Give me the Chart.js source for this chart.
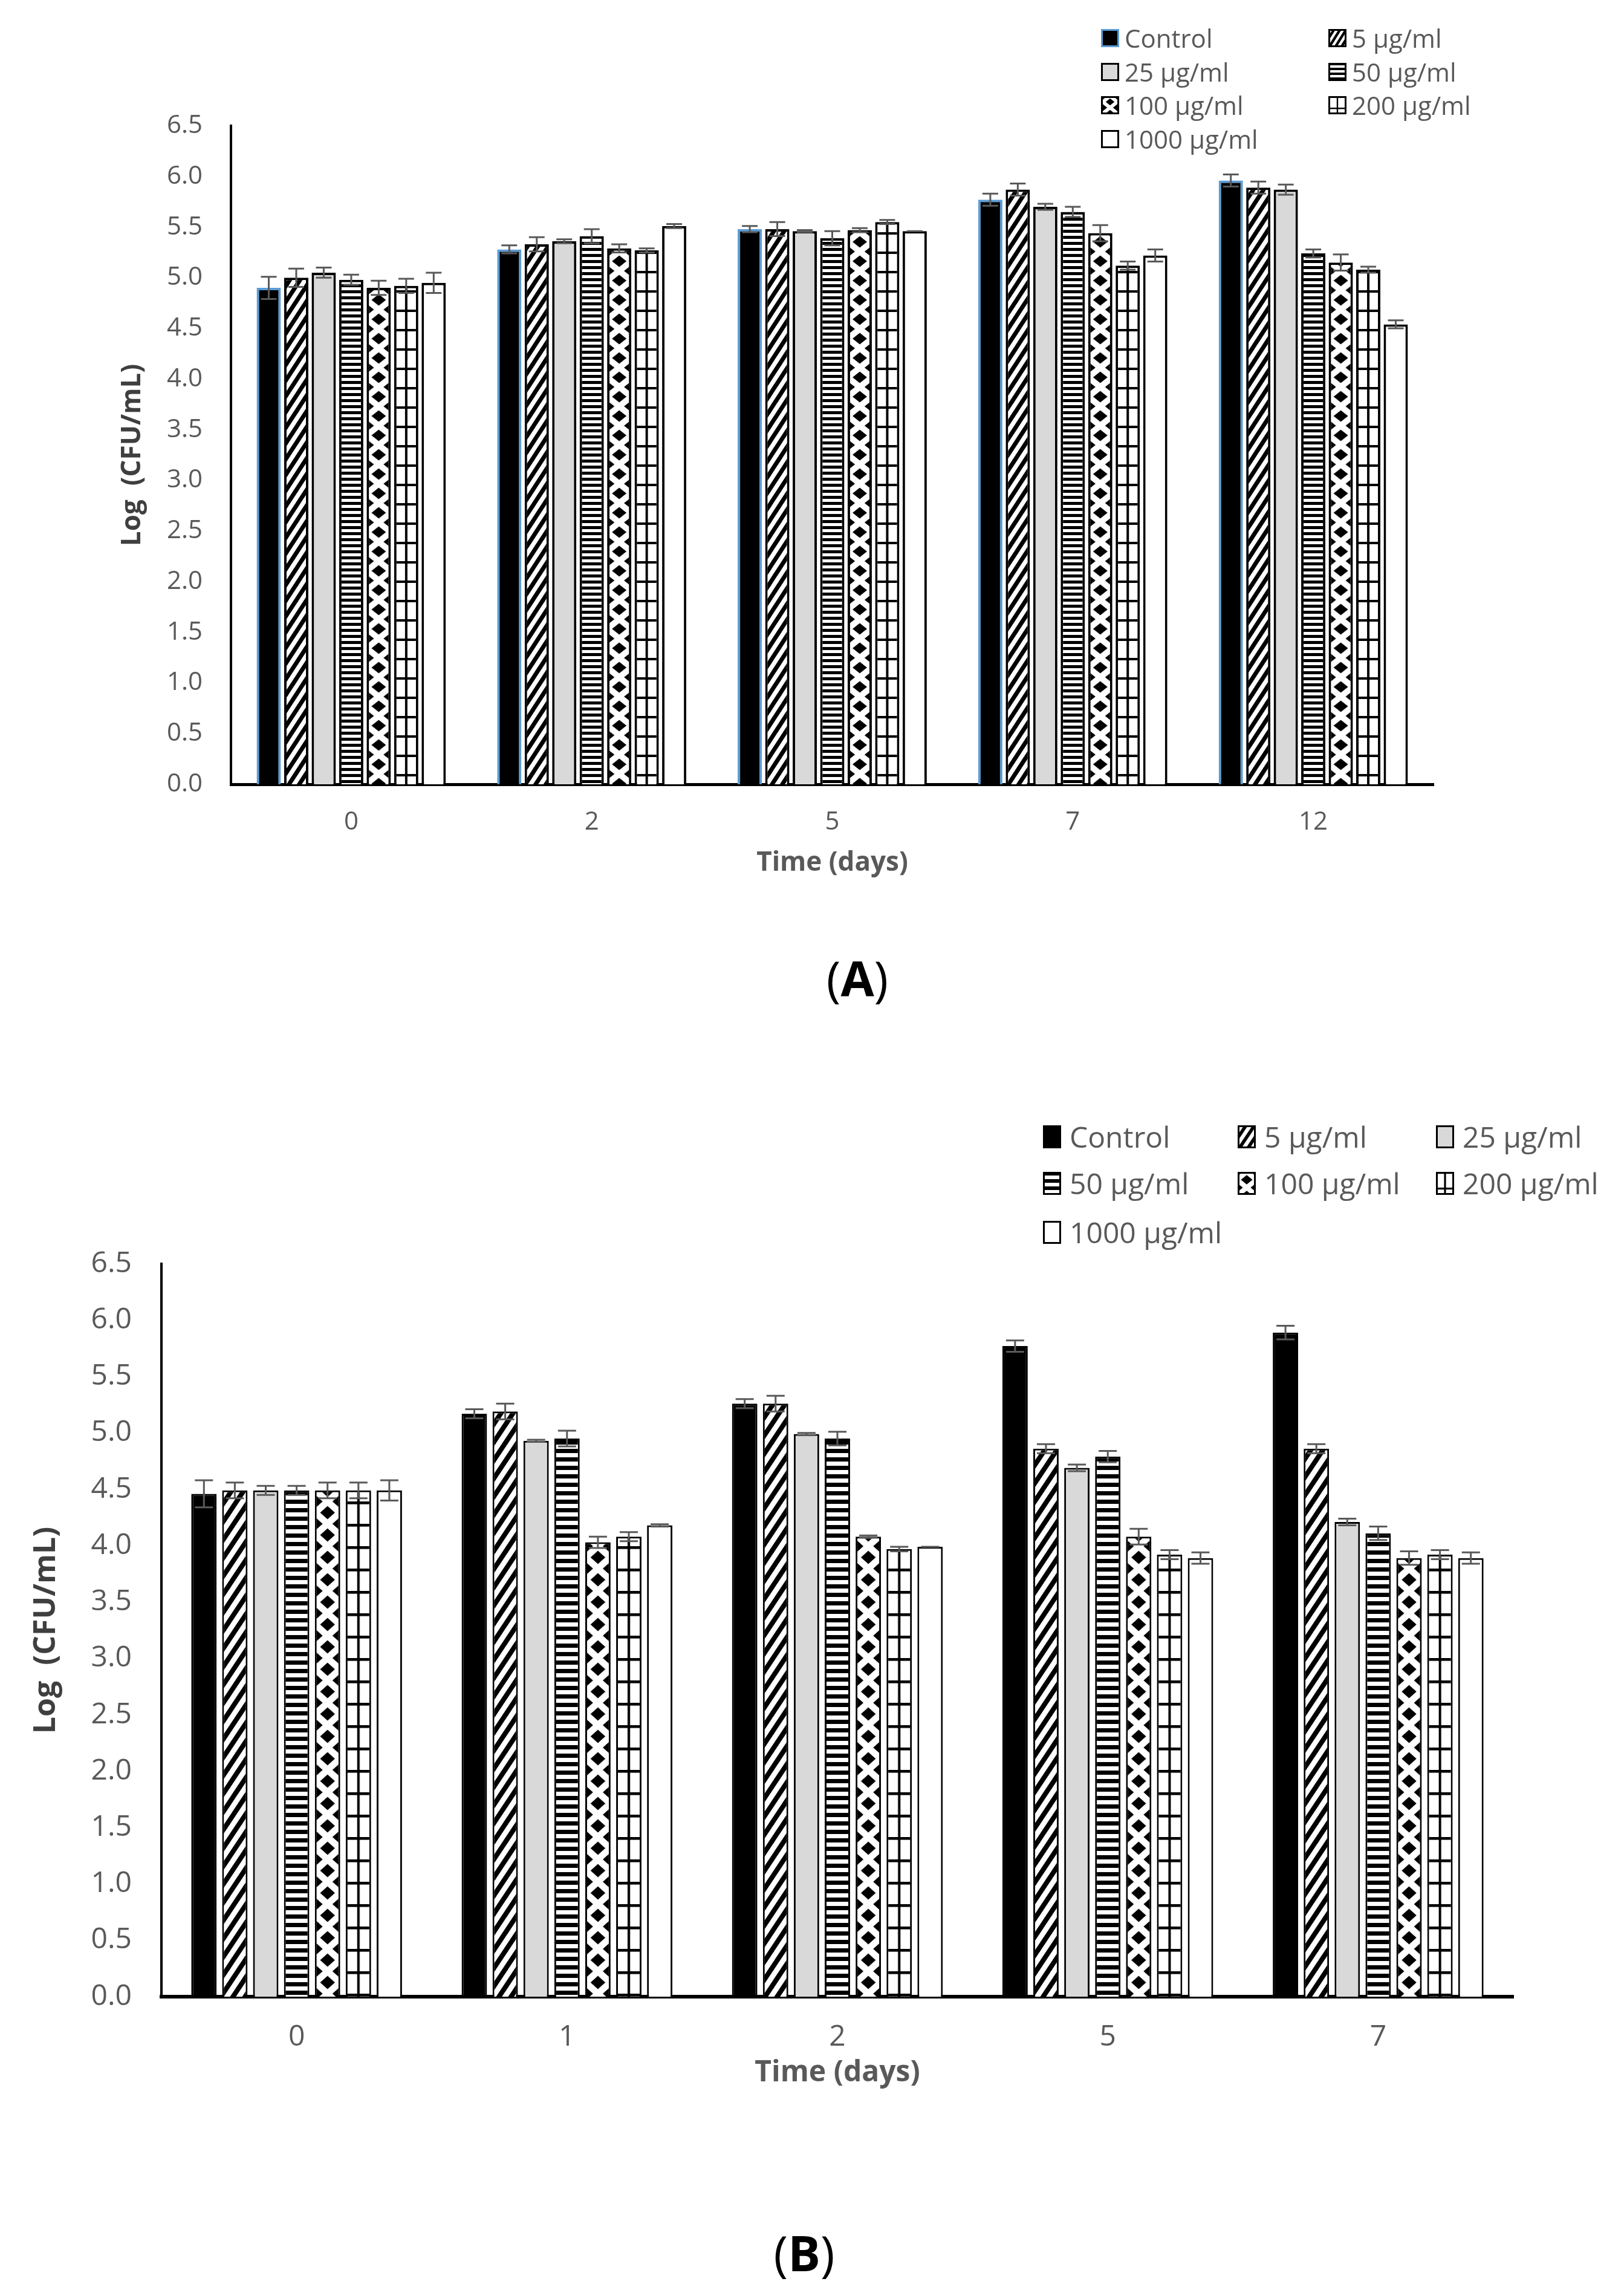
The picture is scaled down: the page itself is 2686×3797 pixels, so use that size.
<!DOCTYPE html>
<html>
<head>
<meta charset="utf-8">
<script src="https://cdn.jsdelivr.net/npm/chart.js@4.4.1/dist/chart.umd.min.js"></script>
<style>
  body { margin: 0; background: #fff; }
  #page { position: relative; width: 2686px; height: 3797px; background: #fff; font-family: 'Open Sans', sans-serif; overflow: hidden; }
  .panel { position: absolute; left: 0; }
  .legend-item { position: absolute; display: flex; align-items: center; color: #595959; white-space: nowrap; transform: translateY(-50%); line-height: 1; }
  .caption { position: absolute; font-size: 80px; color: #000; transform: translate(-50%, -50%); white-space: nowrap; }
  .caption b { font-weight: 700; }
</style>
</head>
<body>
<div id="page">
  <div class="panel" style="top:0;"><canvas id="chartA" width="2686" height="1500"></canvas></div>
  <div class="panel" style="top:1780px;"><canvas id="chartB" width="2686" height="1800"></canvas></div>
  <div class="caption" style="left:1418px; top:1616px;">(<b>A</b>)</div>
  <div class="caption" style="left:1330px; top:3724px;">(<b>B</b>)</div>
</div>
<script>
const FONT = "'Open Sans', sans-serif";

// series shared by both panels
const seriesLabels = ['Control', '5 µg/ml', '25 µg/ml', '50 µg/ml', '100 µg/ml', '200 µg/ml', '1000 µg/ml'];
const fills = ['black', 'diag', 'grey', 'hstripe', 'diamond', 'grid', 'white'];

// panel A
const daysA = ['0', '2', '5', '7', '12'];
const meansA = [
  [4.90, 5.28, 5.48, 5.77, 5.96],  // Control
  [5.00, 5.33, 5.48, 5.87, 5.89],  // 5
  [5.05, 5.36, 5.46, 5.70, 5.87],  // 25
  [4.98, 5.41, 5.39, 5.65, 5.24],  // 50
  [4.90, 5.29, 5.47, 5.44, 5.15],  // 100
  [4.92, 5.27, 5.55, 5.12, 5.08],  // 200
  [4.95, 5.51, 5.46, 5.22, 4.54]   // 1000
];
const errA = [
  [0.11, 0.04, 0.03, 0.06, 0.06],
  [0.09, 0.07, 0.07, 0.06, 0.06],
  [0.05, 0.02, 0.01, 0.03, 0.05],
  [0.05, 0.07, 0.07, 0.05, 0.04],
  [0.07, 0.04, 0.02, 0.08, 0.08],
  [0.07, 0.02, 0.02, 0.04, 0.03],
  [0.10, 0.02, 0.00, 0.06, 0.04]
];

// panel B
const daysB = ['0', '1', '2', '5', '7'];
const meansB = [
  [4.46, 5.17, 5.26, 5.77, 5.89],  // Control
  [4.49, 5.19, 5.26, 4.86, 4.86],  // 5
  [4.49, 4.93, 4.99, 4.69, 4.21],  // 25
  [4.49, 4.95, 4.95, 4.79, 4.11],  // 50
  [4.49, 4.03, 4.08, 4.08, 3.89],  // 100
  [4.49, 4.08, 3.97, 3.92, 3.92],  // 200
  [4.49, 4.18, 3.99, 3.89, 3.89]   // 1000
];
const errB = [
  [0.12, 0.04, 0.04, 0.05, 0.06],
  [0.07, 0.07, 0.07, 0.04, 0.04],
  [0.04, 0.01, 0.01, 0.03, 0.03],
  [0.04, 0.07, 0.06, 0.05, 0.06],
  [0.07, 0.05, 0.01, 0.07, 0.06],
  [0.07, 0.04, 0.02, 0.04, 0.04],
  [0.09, 0.01, 0.00, 0.05, 0.05]
];

const yMax = 6.5;
const yStep = 0.5;


// hatch fills, roughly like the Excel pattern fills
function makeFill(kind, s, stripe){
    if (kind === 'black') return '#000';
    if (kind === 'grey') return '#d9d9d9';
    if (kind === 'white') return '#fff';
    const t = document.createElement('canvas');
    const g = t.getContext('2d');
    let w, h;
    if (kind === 'diag') { w = 17 * s; h = 26 * s; }
    else if (kind === 'hstripe') { w = 8; h = stripe; }
    else { w = 40 * s; h = 32 * s; }
    t.width = Math.max(2, Math.round(w));
    t.height = Math.max(2, Math.round(h));
    w = t.width; h = t.height;
    g.fillStyle = '#fff';
    g.fillRect(0, 0, w, h);
    g.fillStyle = '#000';
    g.strokeStyle = '#000';
    if (kind === 'diag') {
        g.lineWidth = 7 * s;
        for (let k = -1; k <= 1; k++) {
            g.beginPath();
            g.moveTo(-w, 2 * h + k * h);
            g.lineTo(2 * w, -h + k * h);
            g.stroke();
        }
    } else if (kind === 'hstripe') {
        g.fillRect(0, 0, w, h / 2);
    } else if (kind === 'diamond') {
        const dx = w * 0.3, dy = h * 0.3;
        [[w / 2, h / 2], [0, 0], [w, 0], [0, h], [w, h]].forEach(([cx, cy]) => {
            g.beginPath();
            g.moveTo(cx - dx, cy);
            g.lineTo(cx, cy - dy);
            g.lineTo(cx + dx, cy);
            g.lineTo(cx, cy + dy);
            g.closePath();
            g.fill();
        });
    } else {
        const lw = Math.max(2, 4 * s);
        g.fillRect(0, 0, w, lw);
        g.fillRect(w / 2 - lw / 2, 0, lw, h);
    }
    const pat = g.createPattern(t, 'repeat');
    if (kind === 'diamond' || kind === 'grid') pat.tileW = w;
    return pat;
}

// keep diamond / grid fills centred on every bar
const alignPatterns = {
    id: 'alignPatterns',
    beforeDatasetsDraw(chart) {
        const xs = chart.scales.x;
        const cw = xs.getPixelForValue(1) - xs.getPixelForValue(0);
        chart.data.datasets.forEach((ds, i) => {
            const p = ds.backgroundColor;
            if (!p || !p.tileW) return;
            const bar = chart.getDatasetMeta(i).data[0];
            const n = Math.max(1, Math.round(cw / bar.width));
            const sx = cw / (n * p.tileW);
            p.setTransform(new DOMMatrix([sx, 0, 0, 1, bar.x - sx * p.tileW / 2, 0]));
        });
    }
};

const errorBars = {
    id: 'errorBars',
    afterDatasetsDraw(chart, args, opts) {
        const ctx = chart.ctx;
        const y = chart.scales.y;
        ctx.save();
        ctx.strokeStyle = opts.color;
        ctx.lineWidth = opts.width;
        chart.data.datasets.forEach((ds, i) => {
            const meta = chart.getDatasetMeta(i);
            meta.data.forEach((bar, j) => {
                const v = ds.data[j], e = ds.errors[j];
                const top = y.getPixelForValue(v + e);
                const bot = y.getPixelForValue(v - e);
                ctx.beginPath();
                ctx.moveTo(bar.x, top); ctx.lineTo(bar.x, bot);
                ctx.moveTo(bar.x - opts.cap, top); ctx.lineTo(bar.x + opts.cap, top);
                ctx.moveTo(bar.x - opts.cap, bot); ctx.lineTo(bar.x + opts.cap, bot);
                ctx.stroke();
            });
        });
        ctx.restore();
    }
};

function drawPanel(canvasId, labels, means, errs, L){
    const datasets = seriesLabels.map((name, i) => ({
        label: name,
        data: means[i],
        errors: errs[i],
        backgroundColor: makeFill(fills[i], L.patternScale, L.stripe),
        borderColor: i === 0 ? L.controlBorder : '#000',
        borderWidth: L.barBorder,
        categoryPercentage: L.catPct,
        barPercentage: L.barPct
    }));
    return new Chart(document.getElementById(canvasId), {
        type: 'bar',
        data: { labels: labels, datasets: datasets },
        plugins: [alignPatterns, errorBars],
        options: {
            responsive: false,
            animation: false,
            layout: { padding: L.padding },
            plugins: {
                legend: { display: false },
                tooltip: { enabled: false },
                errorBars: { color: '#595959', width: L.errWidth, cap: L.errCap }
            },
            scales: {
                x: {
                    grid: { display: false, drawTicks: false },
                    border: { display: true, color: '#000', width: L.xBorder },
                    ticks: { color: '#595959', font: { family: FONT, size: L.tickSize }, padding: L.xTickPad },
                    title: {
                        display: true, text: 'Time (days)', color: '#595959',
                        font: { family: FONT, size: L.xTitleSize, weight: 'bold' },
                        padding: { top: 0, bottom: L.xTitlePad }
                    },
                    afterFit: s => { s.height = L.xHeight; }
                },
                y: {
                    min: 0, max: yMax,
                    grid: { display: false, drawTicks: false },
                    border: { display: true, color: '#000', width: L.yBorder },
                    ticks: {
                        stepSize: yStep, color: '#595959', padding: L.yTickPad,
                        font: { family: FONT, size: L.tickSize },
                        callback: v => Number(v).toFixed(1)
                    },
                    title: {
                        display: true, text: 'Log  (CFU/mL)', color: '#3f3f3f',
                        font: { family: FONT, size: L.yTitleSize, weight: 'bold' },
                        padding: { top: L.yTitlePad, bottom: 0 }
                    },
                    afterFit: s => { s.width = L.yWidth; }
                }
            }
        }
    });
}

function buildLegend(L){
    const page = document.getElementById('page');
    seriesLabels.forEach((name, i) => {
        const col = i % L.cols, row = Math.floor(i / L.cols);
        const item = document.createElement('div');
        item.className = 'legend-item';
        item.style.left = L.colX[col] + 'px';
        item.style.top = L.rowY[row] + 'px';
        item.style.fontSize = L.fontSize + 'px';
        const sw = document.createElement('canvas');
        sw.width = L.swW; sw.height = L.swH;
        const g = sw.getContext('2d');
        const fill = makeFill(fills[i], L.swScale, L.swStripe);
        if (fill.tileW) fill.setTransform(new DOMMatrix([1, 0, 0, 1, sw.width / 2 - fill.tileW / 2, 0]));
        g.fillStyle = fill;
        g.fillRect(0, 0, sw.width, sw.height);
        g.lineWidth = L.swBorder;
        g.strokeStyle = i === 0 ? L.controlBorder : '#000';
        g.strokeRect(L.swBorder / 2, L.swBorder / 2, sw.width - L.swBorder, sw.height - L.swBorder);
        sw.style.marginRight = L.gap + 'px';
        const txt = document.createElement('span');
        txt.textContent = name;
        item.appendChild(sw);
        item.appendChild(txt);
        page.appendChild(item);
    });
}

drawPanel('chartA', daysA, meansA, errA, {
    padding: { top: 208, right: 315, bottom: 0, left: 0 },
    yWidth: 382, xHeight: 203,
    patternScale: 1, stripe: 10, controlBorder: '#5b9bd5', barBorder: 4,
    catPct: 0.8, barPct: 0.88,
    errWidth: 3, errCap: 13,
    xBorder: 5, yBorder: 4,
    tickSize: 42, xTickPad: 38, yTickPad: 47,
    xTitleSize: 44, xTitlePad: 46,
    yTitleSize: 44, yTitlePad: 193
});

drawPanel('chartB', daysB, meansB, errB, {
    padding: { top: 310, right: 183, bottom: 0, left: 0 },
    yWidth: 267, xHeight: 278,
    patternScale: 1.15, stripe: 14, controlBorder: '#000', barBorder: 3,
    catPct: 0.8, barPct: 0.82,
    errWidth: 3, errCap: 15,
    xBorder: 6, yBorder: 4,
    tickSize: 48, xTickPad: 39, yTickPad: 49,
    xTitleSize: 48, xTitlePad: 123,
    yTitleSize: 50, yTitlePad: 47
});

buildLegend({
    cols: 2, colX: [1821, 2197], rowY: [63, 119, 174, 230],
    fontSize: 42, swW: 30, swH: 30, swScale: 0.6, swStripe: 8, swBorder: 3, gap: 9, controlBorder: '#5b9bd5'
});

buildLegend({
    cols: 3, colX: [1725, 2047, 2375], rowY: [1880, 1957, 2038],
    fontSize: 48, swW: 30, swH: 38, swScale: 0.8, swStripe: 12, swBorder: 3, gap: 14, controlBorder: '#000'
});
</script>
</body>
</html>
